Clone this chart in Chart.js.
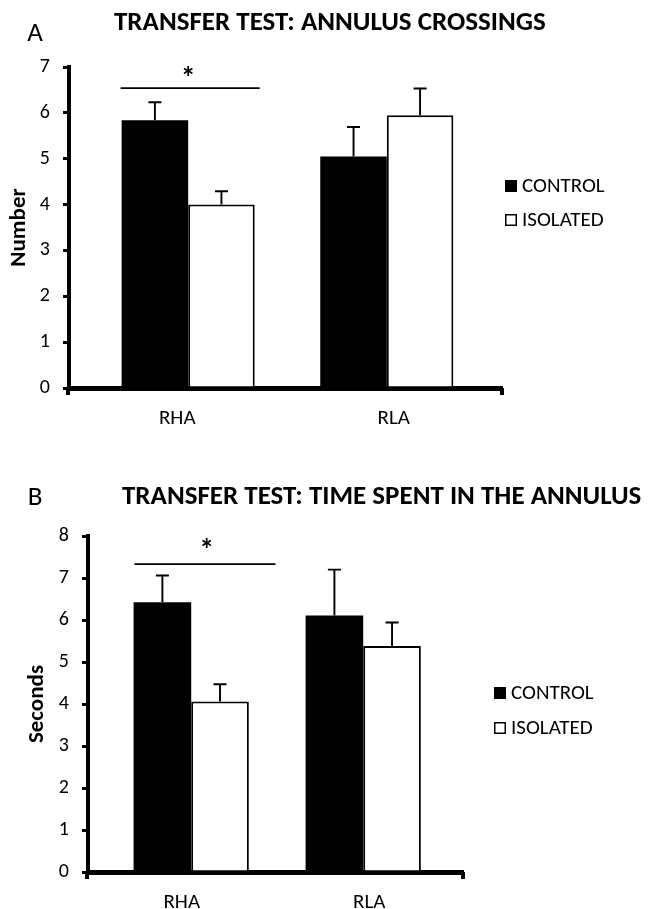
<!DOCTYPE html>
<html>
<head>
<meta charset="utf-8">
<script src="https://cdn.jsdelivr.net/npm/chart.js@4.4.1/dist/chart.umd.min.js"></script>
<style>
  html, body { margin: 0; padding: 0; background: #fff; }
  #wrap { position: relative; width: 648px; height: 909px; }
  canvas { position: absolute; left: 0; }
  #cA { top: 0; }
  #cB { top: 440px; }
</style>
</head>
<body>
<div id="wrap">
  <canvas id="cA" width="648" height="440"></canvas>
  <canvas id="cB" width="648" height="469"></canvas>
</div>
<script>
// Groups and series
const categories = ['RHA', 'RLA'];
const seriesNames = ['CONTROL', 'ISOLATED'];

// Panel A: annulus crossings (mean, SEM)
const crossingsControl = [5.84, 5.05];
const crossingsIsolated = [4.00, 5.95];
const crossingsControlErr = [0.39, 0.64];
const crossingsIsolatedErr = [0.29, 0.58];
const crossingsTicks = [0, 1, 2, 3, 4, 5, 6, 7];

// Panel B: time spent in the annulus (mean, SEM)
const timeControl = [6.42, 6.11];
const timeIsolated = [4.06, 5.38];
const timeControlErr = [0.64, 1.09];
const timeIsolatedErr = [0.41, 0.56];
const timeTicks = [0, 1, 2, 3, 4, 5, 6, 7, 8];

// Significance bracket over RHA: [from, to, level] in data units, and star position
const crossingsSig = [-0.34, 0.36, 6.54];
const crossingsStar = [0.0, 6.86];
const timeSig = [-0.33, 0.49, 7.33];
const timeStar = [0.09, 7.78];

const FONT = "Carlito, 'Liberation Sans Narrow', 'Open Sans', sans-serif";

function annotations(cfg) {
  return {
    id: 'annotations',
    afterDatasetsDraw(chart) {
      const ctx = chart.ctx;
      const xs = chart.scales.xb, ys = chart.scales.y;
      const area = chart.chartArea;
      ctx.save();
      // error bars (upper side only, with caps)
      const errs = cfg.errors;
      chart.data.datasets.forEach((ds, di) => {
        const meta = chart.getDatasetMeta(di);
        meta.data.forEach((bar, i) => {
          const v = ds.data[i].y;
          const top = ys.getPixelForValue(v + errs[di][i]);
          const base = ys.getPixelForValue(v);
          ctx.strokeStyle = '#000';
          ctx.lineWidth = 1.9;
          ctx.beginPath();
          ctx.moveTo(bar.x, base);
          ctx.lineTo(bar.x, top);
          ctx.moveTo(bar.x - 6.5, top);
          ctx.lineTo(bar.x + 6.5, top);
          ctx.stroke();
        });
      });
      // significance line and star
      const [s0, s1, sy] = cfg.sig;
      ctx.lineWidth = 1.8;
      ctx.beginPath();
      ctx.moveTo(xs.getPixelForValue(s0), ys.getPixelForValue(sy));
      ctx.lineTo(xs.getPixelForValue(s1), ys.getPixelForValue(sy));
      ctx.stroke();
      ctx.fillStyle = '#000';
      ctx.font = "bold 30px " + FONT;
      ctx.textAlign = 'center';
      ctx.textBaseline = 'middle';
      ctx.fillText('*', xs.getPixelForValue(cfg.star[0]), ys.getPixelForValue(cfg.star[1]) + 6);
      // end ticks of the x axis
      ctx.lineWidth = 4;
      ctx.beginPath();
      ctx.moveTo(area.left - 1, area.bottom);
      ctx.lineTo(area.left - 1, area.bottom + 7);
      ctx.moveTo(area.right, area.bottom);
      ctx.lineTo(area.right, area.bottom + 7);
      ctx.stroke();
      // panel letter
      ctx.font = "27px " + FONT;
      ctx.textAlign = 'center';
      ctx.fillText(cfg.letter, cfg.letterPos[0], cfg.letterPos[1]);
      // title
      ctx.font = "bold 27px " + FONT;
      ctx.textAlign = 'left';
      ctx.fillText(cfg.title, cfg.titlePos[0], cfg.titlePos[1]);
      // legend
      ctx.font = "21px " + FONT;
      ctx.textAlign = 'left';
      chart.data.datasets.forEach((ds, di) => {
        const bx = cfg.legendX, by = cfg.legendY + di * cfg.legendGap;
        ctx.fillStyle = ds.backgroundColor;
        ctx.fillRect(bx, by - 6, 12, 12);
        ctx.strokeStyle = '#000';
        ctx.lineWidth = 1.5;
        ctx.strokeRect(bx + 0.75, by - 5.25, 10.5, 10.5);
        ctx.fillStyle = '#000';
        ctx.fillText(ds.label, bx + 17, by + 1);
      });
      ctx.restore();
    }
  };
}

function makePanel(id, cfg) {
  const canvas = document.getElementById(id);
  return new Chart(canvas, {
    type: 'bar',
    data: {
      labels: categories,
      datasets: [
        {
          label: seriesNames[0],
          data: cfg.control.map((v, i) => ({ x: i, y: v })),
          backgroundColor: '#000',
          borderColor: '#000',
          borderWidth: 0,
          xAxisID: 'xb'
        },
        {
          label: seriesNames[1],
          data: cfg.isolated.map((v, i) => ({ x: i, y: v })),
          backgroundColor: '#fff',
          borderColor: '#000',
          borderWidth: 2,
          xAxisID: 'xb'
        }
      ]
    },
    options: {
      responsive: false,
      animation: false,
      devicePixelRatio: 1,
      layout: { padding: { top: cfg.top, right: cfg.right, left: 0, bottom: 0 } },
      plugins: { legend: { display: false }, tooltip: { enabled: false }, title: { display: false } },
      datasets: { bar: { categoryPercentage: 0.67, barPercentage: 1.0, grouped: true } },
      scales: {
        xb: {
          type: 'linear',
          display: false,
          min: -0.6,
          max: 1.58,
          offset: false,
          afterBuildTicks(s) { s.ticks = categories.map((c, i) => ({ value: i })); }
        },
        x: {
          type: 'category',
          position: 'bottom',
          offset: true,
          grid: { display: false, drawTicks: false },
          border: { display: true, color: '#000', width: 5 },
          ticks: { color: '#000', font: { family: FONT, size: 21 }, padding: 18 },
          afterFit(s) { s.height = cfg.bottomSpace; }
        },
        y: {
          min: 0,
          max: cfg.max,
          afterBuildTicks(s) { s.ticks = cfg.ticks.map(v => ({ value: v })); },
          grid: { display: true, drawOnChartArea: false, drawTicks: true, tickLength: 6, color: '#000', lineWidth: 3 },
          border: { display: true, color: '#000', width: 4 },
          ticks: { color: '#000', font: { family: FONT, size: 20 }, padding: 13 },
          title: { display: true, text: cfg.yTitle, color: '#000', font: { family: FONT, size: 23, weight: 'bold' }, padding: { top: cfg.yTitlePad, bottom: 0 } },
          afterFit(s) { s.width = cfg.left; }
        }
      }
    },
    plugins: [annotations(cfg)]
  });
}

makePanel('cA', {
  control: crossingsControl,
  isolated: crossingsIsolated,
  errors: [crossingsControlErr, crossingsIsolatedErr],
  ticks: crossingsTicks,
  max: 7,
  sig: crossingsSig,
  star: crossingsStar,
  yTitle: 'Number',
  yTitlePad: 5,
  left: 69,
  right: 146,
  top: 67,
  bottomSpace: 52,
  letter: 'A',
  letterPos: [35, 34],
  title: 'TRANSFER TEST: ANNULUS CROSSINGS',
  titlePos: [114, 23],
  legendX: 505,
  legendY: 186,
  legendGap: 34
});

makePanel('cB', {
  control: timeControl,
  isolated: timeIsolated,
  errors: [timeControlErr, timeIsolatedErr],
  ticks: timeTicks,
  max: 8,
  sig: timeSig,
  star: timeStar,
  yTitle: 'Seconds',
  yTitlePad: 23,
  left: 88,
  right: 185,
  top: 96,
  bottomSpace: 37,
  letter: 'B',
  letterPos: [35, 58],
  title: 'TRANSFER TEST: TIME SPENT IN THE ANNULUS',
  titlePos: [122, 57],
  legendX: 494,
  legendY: 253,
  legendGap: 35
});
</script>
</body>
</html>
